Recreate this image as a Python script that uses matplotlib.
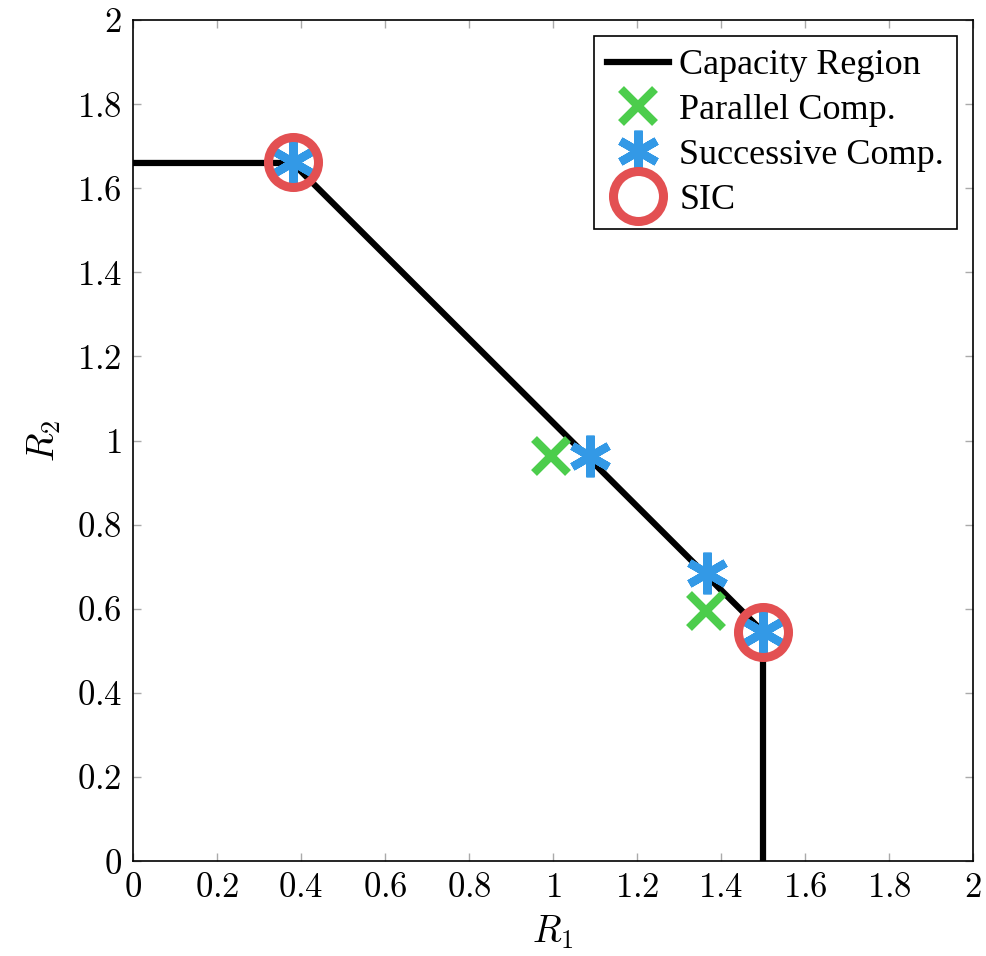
import matplotlib
matplotlib.use("Agg")
import matplotlib.pyplot as plt
from matplotlib.ticker import FuncFormatter

plt.rcParams['mathtext.fontset'] = 'cm'
plt.rcParams['font.family'] = ['Liberation Serif', 'DejaVu Serif']

# Data
region_r1 = [0.0, 0.38, 1.5, 1.5]
region_r2 = [1.66, 1.66, 0.545, 0.0]
parallel_r1 = [0.995, 1.365]
parallel_r2 = [0.963, 0.595]
successive_r1 = [0.38, 1.088, 1.367, 1.5]
successive_r2 = [1.662, 0.963, 0.685, 0.545]
sic_r1 = [0.38, 1.5]
sic_r2 = [1.662, 0.545]
ticks = [0, 0.2, 0.4, 0.6, 0.8, 1, 1.2, 1.4, 1.6, 1.8, 2]

fig = plt.figure(figsize=(9.87, 9.56), dpi=100)
ax = fig.add_axes([133/987, 1-861/956, (973-133)/987, (861-20)/956])

ax.plot(region_r1, region_r2, color='black', lw=4.5, label='Capacity Region', zorder=2)
ax.plot(parallel_r1, parallel_r2, ls='none', marker='x', ms=24, mew=6,
        color='#4ccd4c', label='Parallel Comp.', zorder=3)
ax.plot(successive_r1, successive_r2, ls='none', marker=(6, 2, 0), ms=30, mew=6,
        color='#3399e6', label='Successive Comp.', zorder=4)
ax.plot(sic_r1, sic_r2, ls='none', marker='o', ms=36, mew=6.5, mfc='none',
        mec='#e35052', label='SIC', zorder=5)

ax.set_xlim(0, 2)
ax.set_ylim(0, 2)
ax.set_xticks(ticks)
ax.set_yticks(ticks)
fmt = FuncFormatter(lambda v, p: r'$%g$' % v)
ax.xaxis.set_major_formatter(fmt)
ax.yaxis.set_major_formatter(fmt)
ax.tick_params(direction='in', top=True, right=True, length=6, width=1,
               color='#aaaaaa', labelsize=25, pad=8)
for s in ax.spines.values():
    s.set_linewidth(1.2)
ax.set_xlabel(r'$R_1$', fontsize=27, labelpad=6)
ax.set_ylabel(r'$R_2$', fontsize=27, labelpad=10)

leg = ax.legend(loc='upper right', fontsize=26, frameon=True, fancybox=False,
                edgecolor='black', framealpha=1, borderpad=0.35, handlelength=1.7,
                handletextpad=0.3, labelspacing=0.32, borderaxespad=0.45)
leg.get_frame().set_linewidth(1.2)

fig.savefig('out.png', dpi=100)
